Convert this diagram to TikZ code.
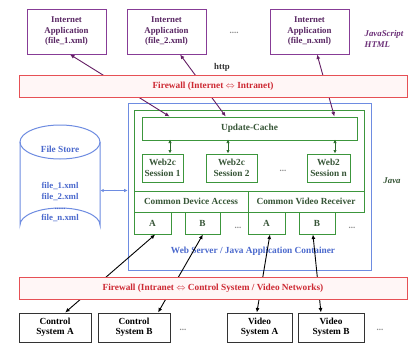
\documentclass[tikz,border=0pt]{standalone}
\usepackage{fontspec}
\setmainfont{Liberation Serif}
\usetikzlibrary{arrows.meta,calc}
\definecolor{appc}{RGB}{135,60,150}
\definecolor{apptext}{RGB}{90,40,100}
\definecolor{parrc}{RGB}{100,30,100}
\definecolor{fwc}{RGB}{230,80,85}
\definecolor{fwfill}{RGB}{255,246,246}
\definecolor{fwtext}{RGB}{205,40,50}
\definecolor{gc}{RGB}{60,150,60}
\definecolor{gtext}{RGB}{55,85,55}
\definecolor{bc}{RGB}{110,140,225}
\definecolor{btext}{RGB}{75,105,205}
\definecolor{dotc}{RGB}{140,140,140}
\begin{document}
\begin{tikzpicture}[x=1pt,y=-1pt,
  box/.style={draw, inner sep=0pt, align=center, line width=1pt,
    font=\bfseries\fontsize{9.3}{10.5}\selectfont},
  app/.style={box, draw=appc, text=apptext, minimum width=79pt, minimum height=45pt,
    font=\bfseries\fontsize{8.8}{10.5}\selectfont},
  fw/.style={box, draw=fwc, fill=fwfill, text=fwtext, minimum width=388pt, minimum height=22pt},
  gbox/.style={box, draw=gc, text=gtext},
  sysbox/.style={box, draw=black!80, text=black, minimum width=72pt, minimum height=29pt},
  dots/.style={text=dotc, font=\bfseries\fontsize{9}{9}\selectfont},
  parr/.style={draw=parrc, line width=0.9pt, {Latex[length=4.5pt,width=4pt]}-{Latex[length=4.5pt,width=4pt]}},
  garr/.style={draw=gc!70!black, line width=0.9pt, {Latex[length=3.5pt,width=3.5pt]}-{Latex[length=3.5pt,width=3.5pt]}},
  karr/.style={draw=black, line width=0.9pt, {Latex[length=4.5pt,width=4pt]}-{Latex[length=4.5pt,width=4pt]}},
  barr/.style={draw=bc, line width=0.9pt, {Latex[length=3.5pt,width=3.5pt]}-{Latex[length=3.5pt,width=3.5pt]}}
]
\useasboundingbox (0,0) rectangle (412,343);
\fill[white] (0,0) rectangle (412,343);

% top applications
\node[app] (app1) at (66.5,31.5) {Internet\\Application\\(file\_1.xml)};
\node[app] (app2) at (166.5,31.5) {Internet\\Application\\(file\_2.xml)};
\node[app] (app3) at (309.5,31.5) {Internet\\Application\\(file\_n.xml)};
\node[dots] (d1) at (234,33) {....};
\node[text=appc!80!black, font=\bfseries\itshape\fontsize{8.8}{10.5}\selectfont, align=left] (js) at (384,39) {JavaScript\\HTML};
\node[font=\bfseries\fontsize{8.8}{10}\selectfont, text=black!80] (http) at (222,67) {http};

% web server container
\node[draw=bc, line width=0.8pt, minimum width=243pt, minimum height=167pt, inner sep=0pt] (blue) at (249.5,186.5) {};
\node[text=btext, font=\bfseries\fontsize{9.3}{10.5}\selectfont] (wslabel) at (253,251) {Web Server / Java Application Container};
\node[draw=gc, line width=1pt, minimum width=230pt, minimum height=102pt, inner sep=0pt] (green) at (249,161) {};
\node[gbox, minimum width=215pt, minimum height=23pt] (cache) at (249.5,128.5) {Update-Cache};
\node[gbox, minimum width=41pt, minimum height=28pt] (s1) at (162.5,168) {Web2c\\Session 1};
\node[gbox, minimum width=51pt, minimum height=28pt] (s2) at (231.5,168) {Web2c\\Session 2};
\node[gbox, minimum width=43pt, minimum height=28pt] (sn) at (328.5,168) {Web2\\Session n};
\node[dots] (d2) at (283,171) {...};
\node[gbox, minimum width=114pt, minimum height=21pt] (cda) at (191,201.5) {Common Device Access};
\node[gbox, minimum width=116pt, minimum height=21pt] (cvr) at (306,201.5) {Common Video Receiver};
\node[gbox, minimum width=37pt, minimum height=22pt] (a1) at (152.5,223) {A};
\node[gbox, minimum width=35pt, minimum height=22pt] (b1) at (202.5,223) {B};
\node[dots] (d3) at (238,228) {...};
\node[gbox, minimum width=37pt, minimum height=22pt] (a2) at (266.5,223) {A};
\node[gbox, minimum width=36pt, minimum height=22pt] (b2) at (317,223) {B};
\node[dots] (d4) at (352,228) {...};
\node[text=gtext, font=\bfseries\itshape\fontsize{8.8}{10}\selectfont] (java) at (392,181) {Java};

% file store
\node[minimum width=80pt, minimum height=117pt, inner sep=0pt] (store) at (60,183.5) {};
\draw[draw=bc, line width=1pt] (20,142) -- (20,225) arc[start angle=180, end angle=360, x radius=40, y radius=17] -- (100,142);
\draw[draw=bc, line width=1pt] (60,142) ellipse[x radius=40, y radius=17];
\node[text=btext, font=\bfseries\fontsize{9.3}{10.5}\selectfont] (fs) at (60,149) {File Store};
\node[text=btext, font=\bfseries\fontsize{8.8}{10.5}\selectfont, align=center] (files) at (60,202) {file\_1.xml\\file\_2.xml\\.....\\file\_n.xml};
\draw[barr] (store.east |- cda.north) -- (blue.west |- cda.north);

% top arrows (behind firewall)
\draw[parr] ($(app1.south west)!0.544!(app1.south east)$) -- ($(cache.north west)!0.13!(cache.north east)$);
\draw[parr] ($(app2.south west)!0.67!(app2.south east)$) -- ($(cache.north west)!0.39!(cache.north east)$);
\draw[parr] ($(app3.south west)!0.595!(app3.south east)$) -- ($(cache.north west)!0.893!(cache.north east)$);
\node[fw] (fw1) at (213,86) {Firewall (Internet $\Leftrightarrow$ Intranet)};

% green session arrows
\draw[garr] ($(s1.north)+(7.5,0)$) -- ($(s1.north)+(7.5,-14)$);
\draw[garr] ($(s2.north)+(-3.5,0)$) -- ($(s2.north)+(-3.5,-14)$);
\draw[garr] ($(sn.north)+(6.5,0)$) -- ($(sn.north)+(6.5,-14)$);

% bottom systems
\node[sysbox] (ca) at (55,327.5) {Control\\System A};
\node[sysbox] (cb) at (134,327.5) {Control\\System B};
\node[dots] (d5) at (183,330) {...};
\node[sysbox, minimum width=65pt] (va) at (259.5,327.5) {Video\\System A};
\node[sysbox, minimum width=66pt] (vb) at (331,327.5) {Video\\System B};
\node[dots] (d6) at (380,330) {...};

\draw[karr] ($(ca.north west)!0.64!(ca.north east)$) -- ($(a1.south west)!0.57!(a1.south east)$);
\draw[karr] ($(cb.north west)!0.83!(cb.north east)$) -- ($(b1.south west)!0.51!(b1.south east)$);
\draw[karr] ($(va.north west)!0.46!(va.north east)$) -- ($(a2.south west)!0.59!(a2.south east)$);
\draw[karr] ($(vb.north west)!0.35!(vb.north east)$) -- ($(b2.south west)!0.39!(b2.south east)$);
\node[fw] (fw2) at (213,288) {Firewall (Intranet $\Leftrightarrow$ Control System / Video Networks)};
\end{tikzpicture}
\end{document}
